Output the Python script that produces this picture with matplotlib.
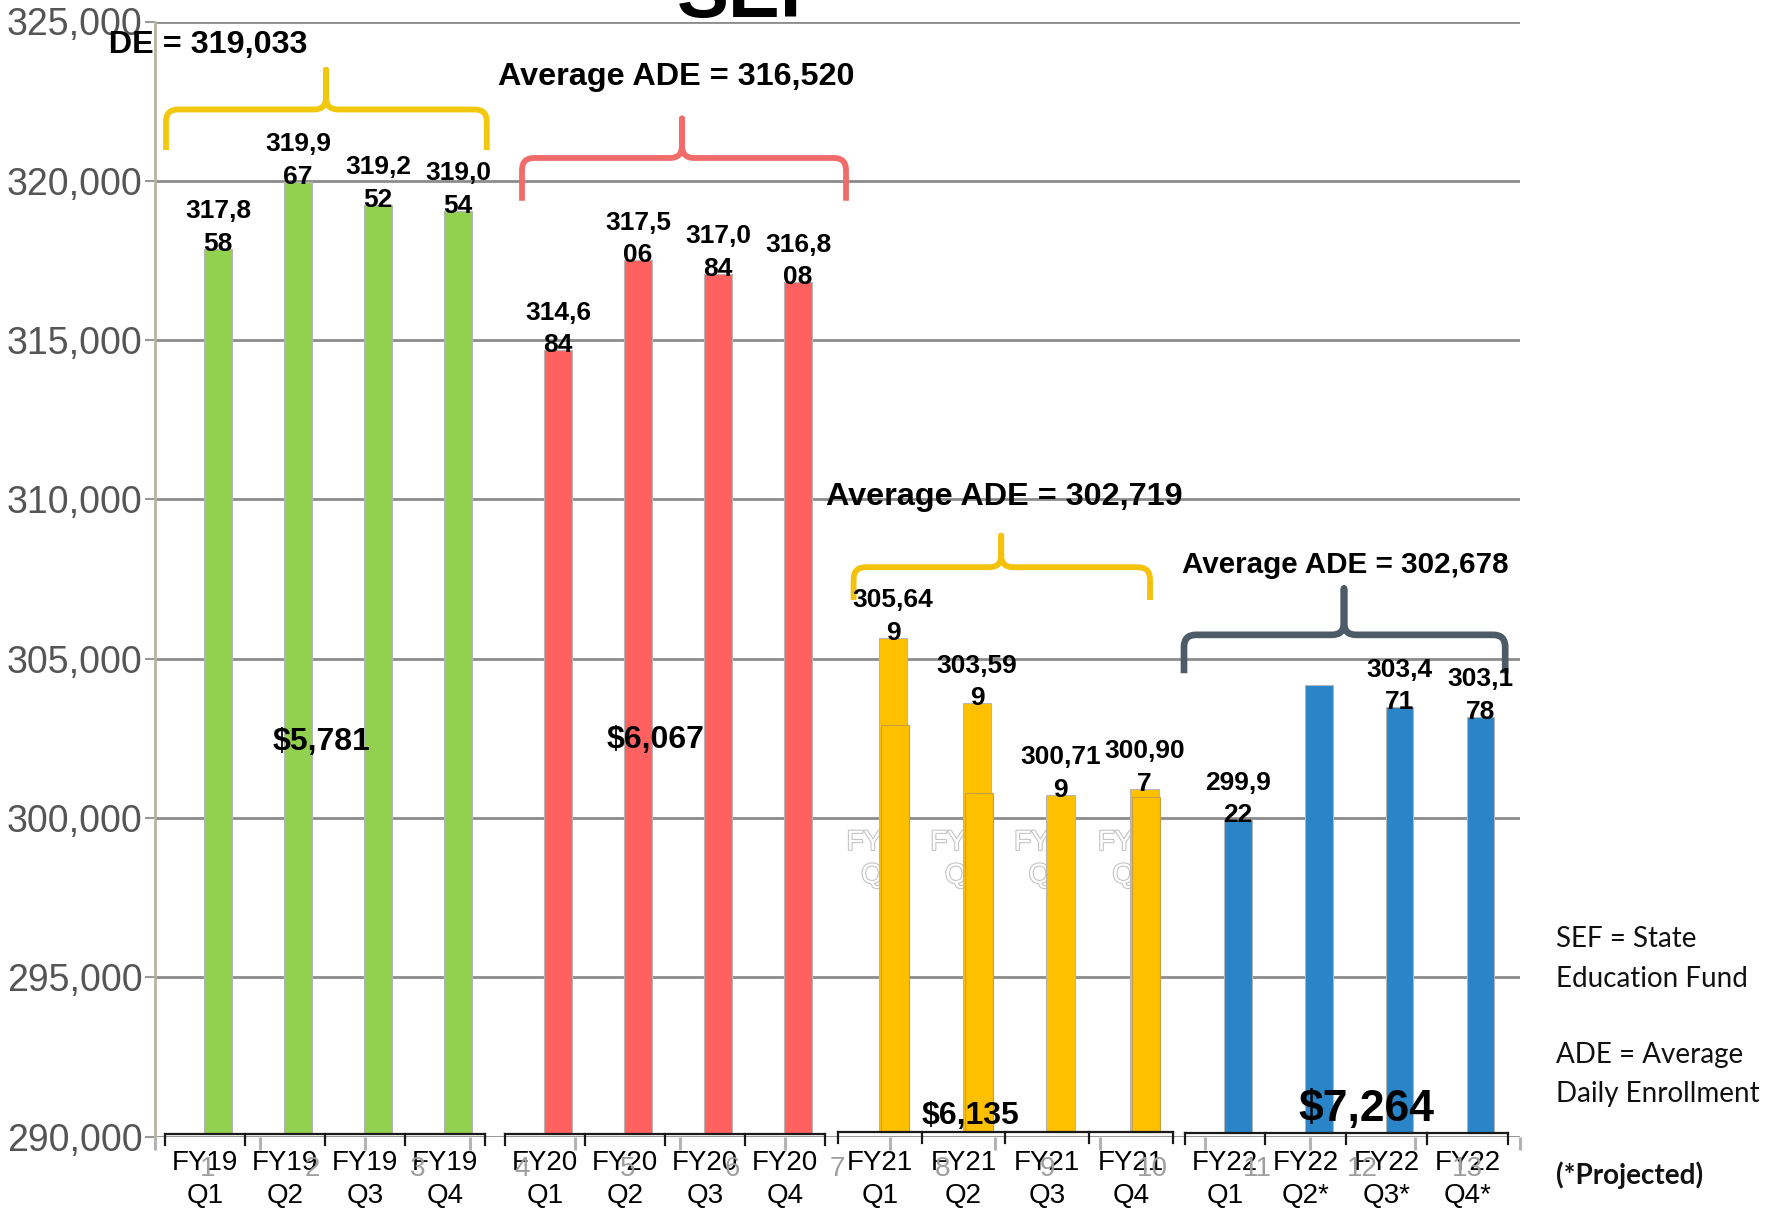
import numpy as np
import matplotlib.pyplot as plt
from matplotlib.path import Path
from matplotlib.patches import PathPatch
from matplotlib.transforms import Bbox, TransformedBbox
import matplotlib.patheffects as pe

plt.rcParams['font.family'] = ['Liberation Sans', 'DejaVu Sans']

# quarterly average daily enrollment
years = ["FY19", "FY20", "FY21", "FY22"]
quarters = ["Q1", "Q2", "Q3", "Q4"]
projected_fy22 = [False, True, True, True]
ade_fy19 = [317858, 319967, 319252, 319054]
ade_fy20 = [314684, 317506, 317084, 316808]
ade_fy21 = [305649, 303599, 300719, 300907]
ade_fy22 = [299922, 304180, 303471, 303178]
labeled_fy22 = [True, False, True, True]
ade_fy21_prior = [302916, 300782, np.nan, 300656]
avg_ade = [319033, 316520, 302719, 302678]
sef_per_pupil = [5781, 6067, 6135, 7264]

series = [ade_fy19, ade_fy20, ade_fy21, ade_fy22]
labeled = [[True] * 4, [True] * 4, [True] * 4, labeled_fy22]
colors = ["#92D050", "#FF6161", "#FFC000", "#2A84C8"]
brace_colors = ["#F2C80F", "#F26B6B", "#F4C20D", "#4D5B69"]
split_at = [5, 5, 6, 5]

# layout of the four pasted groups
group_start = [0.0, 4.25, 8.44, 12.75]
group_step = [1.0, 1.0, 1.047, 1.01]
group_base = [290080, 290080, 290140, 290110]
bar_w = 0.34

fig = plt.figure(figsize=(17.68, 12.11), dpi=100, facecolor="white")
ax = fig.add_axes([155 / 1768, 1 - 1136.5 / 1211, 1365 / 1768, 1115 / 1211])
ax.patch.set_visible(False)
ax.set_xlim(-0.7875, 16.275)
ax.set_ylim(290000, 325000)

yt = np.arange(290000, 325001, 5000)
ax.set_yticks(yt)
ax.set_yticklabels([f"{v:,}" for v in yt])
ax.tick_params(axis="y", labelsize=27, labelcolor="#555555", color="#9a9a9a",
               length=7, width=1.5, pad=2)
ax.yaxis.grid(True, color="#8c8c8c", lw=2)
ax.set_axisbelow(True)
for s in ["top", "right", "bottom"]:
    ax.spines[s].set_visible(False)
ax.spines["left"].set_color("#b5b59a")
ax.spines["left"].set_linewidth(2)

tick_pos, tick_lab = [], []
for g in range(4):
    x = group_start[g] + group_step[g] * np.arange(4)
    base = group_base[g]
    vals = np.array(series[g], dtype=float)
    w = bar_w * group_step[g]
    ax.bar(x, vals - base, bottom=base, width=w,
           color=colors[g], edgecolor="#b5b5b5", lw=0.8, zorder=2)
    for xi, v, show in zip(x, series[g], labeled[g]):
        if not show:
            continue
        s = f"{v:,}"
        ax.annotate(s[:split_at[g]] + "\n" + s[split_at[g]:], (xi, v),
                    xytext=(0, -5), textcoords="offset points",
                    ha="center", va="bottom", fontsize=19, weight="bold",
                    linespacing=1.45, zorder=5)
    # bracket segments of the category axis
    edges = x[0] - 0.66 * group_step[g] + group_step[g] * np.arange(5)
    ax.plot([edges[0], edges[-1]], [base, base], color="#1a1a1a", lw=1.6,
            clip_on=False, zorder=4)
    for e in edges:
        ax.plot([e, e], [base, base - 350], color="#1a1a1a", lw=1.6,
                clip_on=False, zorder=4)
    centers = x - 0.16 * group_step[g]
    for j, c in enumerate(centers):
        q = quarters[j]
        if g == 3 and projected_fy22[j]:
            q += "*"
        tick_pos.append(c)
        tick_lab.append(years[g] + "\n" + q)
        if g == 2:
            # faint hollow labels of the chart underneath, showing left of the bar
            gt = ax.text(c, 298700, years[g] + "\n" + q, ha="center", va="center",
                         fontsize=20, color="white", linespacing=1.35, zorder=1.5,
                         path_effects=[pe.withStroke(linewidth=1.6,
                                                     foreground="#c4c4c4")])
            gt.set_clip_on(True)
            gt.set_clip_box(TransformedBbox(
                Bbox([[c - 0.6, 290000], [x[j] - w / 2, 325000]]), ax.transData))

# lower FY21 bars left over from the underlying chart
x21 = group_start[2] + group_step[2] * np.arange(4) + 0.02
prior = np.array(ade_fy21_prior, dtype=float)
ax.bar(x21, prior - group_base[2], bottom=group_base[2], width=0.35,
       color=colors[2], edgecolor="#c8a040", lw=0.8, zorder=2.5)

ax.set_xticks(tick_pos)
ax.set_xticklabels(tick_lab, fontsize=20, linespacing=1.35)
ax.tick_params(axis="x", length=0, pad=10)

# ghost numbered axis underneath
ax2 = ax.twiny()
ax2.set_zorder(ax.get_zorder() + 1)
ax2.patch.set_visible(False)
for s in ax2.spines.values():
    s.set_visible(False)
ax2.set_xlim(0, 13)
ax2.xaxis.set_ticks_position("bottom")
ax2.set_xticks(np.arange(14))
ax2.set_xticklabels([])
ax2.set_xticks(np.arange(13) + 0.5, minor=True)
ax2.set_xticklabels([str(i) for i in range(1, 14)], minor=True)
ax2.tick_params(axis="x", which="major", length=9, width=2.2, color="#b4b4b4")
ax2.tick_params(axis="x", which="minor", length=0, pad=14, labelsize=20,
                labelcolor="#9e9e9e")


def brace(x0, x1, xt, y_end, y_mid, y_tip, color, lw):
    rx, ry = 0.15, 380
    verts = [(x0, y_end), (x0, y_mid - ry), (x0, y_mid), (x0 + rx, y_mid),
             (xt - rx, y_mid), (xt, y_mid), (xt, y_mid + ry), (xt, y_tip),
             (xt, y_mid + ry), (xt, y_mid), (xt + rx, y_mid),
             (x1 - rx, y_mid), (x1, y_mid), (x1, y_mid - ry), (x1, y_end)]
    L, C = Path.LINETO, Path.CURVE3
    codes = [Path.MOVETO, L, C, C, L, C, C, L, L, C, C, L, C, C, L]
    ax.add_patch(PathPatch(Path(verts, codes), fill=False, edgecolor=color,
                           lw=lw, capstyle="butt", joinstyle="round",
                           zorder=4, clip_on=False))


brace_x = [(-0.65, 3.36, 1.35), (3.80, 7.85, 5.80),
           (7.945, 11.65, 9.79), (12.075, 16.09, 14.075)]
brace_y = [(320964, 322238, 323478), (319373, 320716, 321955),
           (306843, 307869, 308861), (304542, 305747, 307197)]
for g in range(4):
    brace(*brace_x[g], *brace_y[g], brace_colors[g], 4.2 if g < 3 else 4.8)

avg_pos = [(1.1225, 324259, "right", 23.3), (5.73, 323264, "center", 23.3),
           (9.83, 310063, "center", 23.3), (14.09, 307938, "center", 21.3)]
for g, (x, y, ha, fs) in enumerate(avg_pos):
    t = ax.text(x, y, f"Average ADE = {avg_ade[g]:,}", ha=ha, va="center",
                fontsize=fs, weight="bold", zorder=6, clip_on=True)
    if g == 0:
        t.set_clip_box(TransformedBbox(Bbox([[108 / 1768, 0], [1, 1]]),
                                       fig.transFigure))
    else:
        t.set_clip_on(False)

sef_pos = [(1.30, 302382, 23), (5.475, 302445, 23),
           (9.40, 290643, 23), (14.35, 290863, 32)]
for amt, (x, y, fs) in zip(sef_per_pupil, sef_pos):
    ax.text(x, y, f"${amt:,}", ha="center", va="center", fontsize=fs,
            weight="bold", zorder=6)

# slide title, mostly above the frame
fig.text(752 / 1768, 1 - 17 / 1211, "SEF", ha="center", va="baseline",
         fontsize=56, weight="bold")

notes = [("SEF = State", 939, "normal"), ("Education Fund", 979, "normal"),
         ("ADE = Average", 1055, "normal"), ("Daily Enrollment", 1094, "normal"),
         ("(*Projected)", 1175, "bold")]
for txt, y, w in notes:
    fig.text(1556 / 1768, 1 - y / 1211, txt, ha="left", va="center",
             fontsize=20, family="Lato", weight=w, color="#111111")

fig.savefig("out.png", dpi=100, facecolor="white")
